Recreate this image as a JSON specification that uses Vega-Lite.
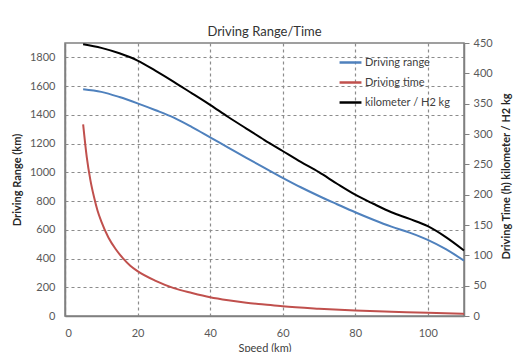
{
  "$schema": "https://vega.github.io/schema/vega-lite/v6.json",
  "autosize": {"type": "none"},
  "padding": {"left": 65, "top": 43, "right": 52, "bottom": 36},
  "width": 399,
  "height": 273,
  "background": "white",
  "title": {"text": "Driving Range/Time", "font": "Lato", "fontSize": 13, "fontWeight": "normal", "color": "#333333", "offset": -2},
  "config": {
    "font": "Lato",
    "view": {"stroke": "#808080", "strokeWidth": 1.5},
    "axis": {"labelFont": "Lato", "labelFontSize": 11, "labelColor": "#595959", "titleFont": "Lato", "titleFontSize": 11, "titleColor": "#262626", "domainColor": "#808080", "domainWidth": 1.5}
  },
  "data": {"values": [
    {"speed": 5, "series": "Driving range", "value": 1578},
    {"speed": 10, "series": "Driving range", "value": 1560},
    {"speed": 15, "series": "Driving range", "value": 1524},
    {"speed": 20, "series": "Driving range", "value": 1480},
    {"speed": 25, "series": "Driving range", "value": 1432},
    {"speed": 30, "series": "Driving range", "value": 1380},
    {"speed": 35, "series": "Driving range", "value": 1314},
    {"speed": 40, "series": "Driving range", "value": 1243},
    {"speed": 45, "series": "Driving range", "value": 1172},
    {"speed": 50, "series": "Driving range", "value": 1101},
    {"speed": 55, "series": "Driving range", "value": 1031},
    {"speed": 60, "series": "Driving range", "value": 962},
    {"speed": 65, "series": "Driving range", "value": 896},
    {"speed": 70, "series": "Driving range", "value": 835},
    {"speed": 75, "series": "Driving range", "value": 778},
    {"speed": 80, "series": "Driving range", "value": 722},
    {"speed": 85, "series": "Driving range", "value": 670},
    {"speed": 90, "series": "Driving range", "value": 622},
    {"speed": 95, "series": "Driving range", "value": 580},
    {"speed": 100, "series": "Driving range", "value": 530},
    {"speed": 105, "series": "Driving range", "value": 465},
    {"speed": 110, "series": "Driving range", "value": 385},
    {"speed": 5, "series": "Driving time", "value": 316},
    {"speed": 6, "series": "Driving time", "value": 262},
    {"speed": 7, "series": "Driving time", "value": 224},
    {"speed": 8, "series": "Driving time", "value": 196},
    {"speed": 9, "series": "Driving time", "value": 173},
    {"speed": 10, "series": "Driving time", "value": 156},
    {"speed": 12, "series": "Driving time", "value": 129},
    {"speed": 14, "series": "Driving time", "value": 110},
    {"speed": 16, "series": "Driving time", "value": 95},
    {"speed": 18, "series": "Driving time", "value": 83},
    {"speed": 20, "series": "Driving time", "value": 74},
    {"speed": 25, "series": "Driving time", "value": 58},
    {"speed": 30, "series": "Driving time", "value": 46},
    {"speed": 35, "series": "Driving time", "value": 38},
    {"speed": 40, "series": "Driving time", "value": 31},
    {"speed": 45, "series": "Driving time", "value": 26},
    {"speed": 50, "series": "Driving time", "value": 22},
    {"speed": 55, "series": "Driving time", "value": 19},
    {"speed": 60, "series": "Driving time", "value": 16},
    {"speed": 70, "series": "Driving time", "value": 12},
    {"speed": 80, "series": "Driving time", "value": 9},
    {"speed": 90, "series": "Driving time", "value": 7},
    {"speed": 100, "series": "Driving time", "value": 5.3},
    {"speed": 110, "series": "Driving time", "value": 3.5},
    {"speed": 5, "series": "kilometer / H2 kg", "value": 448},
    {"speed": 10, "series": "kilometer / H2 kg", "value": 442},
    {"speed": 15, "series": "kilometer / H2 kg", "value": 433},
    {"speed": 20, "series": "kilometer / H2 kg", "value": 421},
    {"speed": 25, "series": "kilometer / H2 kg", "value": 404},
    {"speed": 30, "series": "kilometer / H2 kg", "value": 386},
    {"speed": 35, "series": "kilometer / H2 kg", "value": 367},
    {"speed": 40, "series": "kilometer / H2 kg", "value": 348},
    {"speed": 45, "series": "kilometer / H2 kg", "value": 328},
    {"speed": 50, "series": "kilometer / H2 kg", "value": 309},
    {"speed": 55, "series": "kilometer / H2 kg", "value": 290},
    {"speed": 60, "series": "kilometer / H2 kg", "value": 272},
    {"speed": 65, "series": "kilometer / H2 kg", "value": 254},
    {"speed": 70, "series": "kilometer / H2 kg", "value": 237},
    {"speed": 75, "series": "kilometer / H2 kg", "value": 218},
    {"speed": 80, "series": "kilometer / H2 kg", "value": 200},
    {"speed": 85, "series": "kilometer / H2 kg", "value": 185},
    {"speed": 90, "series": "kilometer / H2 kg", "value": 171},
    {"speed": 95, "series": "kilometer / H2 kg", "value": 160},
    {"speed": 100, "series": "kilometer / H2 kg", "value": 148},
    {"speed": 105, "series": "kilometer / H2 kg", "value": 130},
    {"speed": 110, "series": "kilometer / H2 kg", "value": 108}
  ]},
  "encoding": {
    "x": {"field": "speed", "type": "quantitative", "scale": {"domain": [0, 110], "nice": false},
      "axis": {"title": "Speed (km)", "titleFontWeight": "normal", "titleColor": "#404040", "tickCount": 6, "grid": true, "gridColor": "#8c8c8c", "gridWidth": 1.2, "gridDash": [3, 3], "tickSize": 0, "labelPadding": 11, "titlePadding": 4}},
    "color": {"field": "series", "type": "nominal",
      "scale": {"domain": ["Driving range", "Driving time", "kilometer / H2 kg"], "range": ["#4F81BD", "#C0504D", "#000000"]},
      "legend": {"title": null, "orient": "none", "legendX": 273, "legendY": 7, "symbolType": "stroke", "symbolSize": 480, "symbolStrokeWidth": 2.5, "labelFont": "Lato", "labelFontSize": 11, "labelColor": "#404040", "labelOffset": 2, "rowPadding": 2}}
  },
  "layer": [
    {
      "transform": [{"filter": "datum.series === 'Driving range'"}],
      "mark": {"type": "line", "strokeWidth": 2, "interpolate": "monotone"},
      "encoding": {
        "y": {"field": "value", "type": "quantitative", "scale": {"domain": [0, 1900], "nice": false},
          "axis": {"orient": "left", "title": "Driving Range  (km)", "titleFontWeight": "bold", "tickCount": 10, "format": "d", "grid": true, "gridColor": "#8c8c8c", "gridWidth": 1.2, "gridDash": [3, 3], "tickSize": 0, "labelPadding": 10, "titlePadding": 7}}
      }
    },
    {
      "transform": [{"filter": "datum.series !== 'Driving range'"}],
      "mark": {"type": "line", "strokeWidth": 2, "interpolate": "monotone"},
      "encoding": {
        "y": {"field": "value", "type": "quantitative", "scale": {"domain": [0, 450], "nice": false},
          "axis": {"orient": "right", "title": "Driving Time (h)      kilometer / H2 kg", "titleAngle": 270, "titleX": 42, "titleY": 133, "titleAlign": "center", "titleBaseline": "middle", "titleFontWeight": "bold", "tickCount": 10, "grid": false, "tickSize": 5, "tickColor": "#808080", "labelPadding": 4}}
      }
    }
  ],
  "resolve": {"scale": {"y": "independent"}}
}
